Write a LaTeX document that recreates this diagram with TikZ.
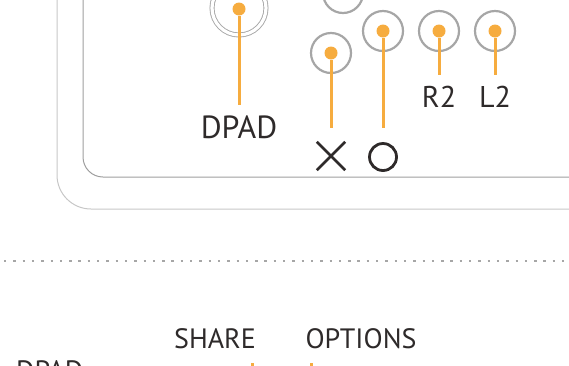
\documentclass[tikz,border=0pt]{standalone}
\usepackage{fontspec}
\setmainfont{PT Sans}
\usepackage{xcolor}
\definecolor{padorange}{HTML}{F6AC3F}
\definecolor{padgray}{HTML}{A6A6A6}
\definecolor{padink}{HTML}{2E2A2A}
\tikzset{
  btn/.style={draw=padgray, line width=2.2pt, circle, minimum size=40pt, inner sep=0pt},
  knob/.style={fill=padorange, circle, minimum size=13pt, inner sep=0pt},
  lead/.style={draw=padorange, line width=3pt},
  lbl/.style={text=padink, inner sep=0pt, anchor=base, font=\fontsize{28}{28}\selectfont},
}
\begin{document}
\begin{tikzpicture}[x=1pt,y=-1pt]
\clip (0,0) rectangle (569,365);
% case outlines
\draw[draw=black!22, line width=1pt, rounded corners=34pt] (57,-100) rectangle (700,209);
\draw[draw=black!38, line width=1pt, rounded corners=20pt] (83,-100) rectangle (700,177);

% buttons
\node[draw=padgray, circle, line width=0.9pt, double=white, double distance=3.2pt, minimum size=54pt, inner sep=0pt] (btnDpad) at (239,8) {};
\node[btn] (btnTri) at (343,-7) {};
\node[btn] (btnX) at (331,53) {};
\node[btn] (btnO) at (383,31) {};
\node[btn] (btnR2) at (439,31) {};
\node[btn] (btnL2) at (495,31) {};
\node[knob] (dotDpad) at (239,9) {};
\node[knob] (dotX) at (btnX) {};
\node[knob] (dotO) at (btnO) {};
\node[knob] (dotR2) at (btnR2) {};
\node[knob] (dotL2) at (btnL2) {};

% labels
\node[lbl, font=\fontsize{32}{32}\selectfont] (lblDpad) at (239,138) {DPAD};
\node[lbl, font=\fontsize{30}{30}\selectfont] (lblR2) at (439,107) {R2};
\node[lbl, font=\fontsize{30}{30}\selectfont] (lblL2) at (495,107) {L2};
\node[inner sep=0pt, minimum size=28pt] (symX) at (331,156) {};
\draw[padink, line width=2.8pt] (symX.north west) -- (symX.south east) (symX.north east) -- (symX.south west);
\node[circle, draw=padink, line width=2.8pt, minimum size=27pt, inner sep=0pt] (symO) at (383,157) {};

\draw[lead, shorten >=10pt] (dotDpad) -- (lblDpad.north);
\draw[lead, shorten >=14pt] (dotX) -- (symX.north);
\draw[lead, shorten >=14pt] (dotO) -- (symO.north);
\draw[lead, shorten >=10pt] (dotR2) -- (lblR2.north);
\draw[lead, shorten >=10pt] (dotL2) -- (lblL2.north);

% separator
\coordinate (sepL) at (4,261);
\coordinate (sepR) at (569,261);
\draw[draw=black!35, line width=2.4pt, dash pattern=on 2.4pt off 6.9pt] (sepL) -- (sepR);

% lower view
\node[lbl] (lblShare) at (215,348) {SHARE};
\node[lbl] (lblOptions) at (361,348) {OPTIONS};
\node[lbl, anchor=north west] (lblDpadB) at (16,360) {DPAD};
\coordinate (shareEnd) at (252,420);
\coordinate (optionsEnd) at (311,420);
\draw[lead, shorten >=14pt] (shareEnd) -- (shareEnd |- lblShare.south);
\draw[lead, shorten >=14pt] (optionsEnd) -- (optionsEnd |- lblOptions.south);
\end{tikzpicture}
\end{document}
